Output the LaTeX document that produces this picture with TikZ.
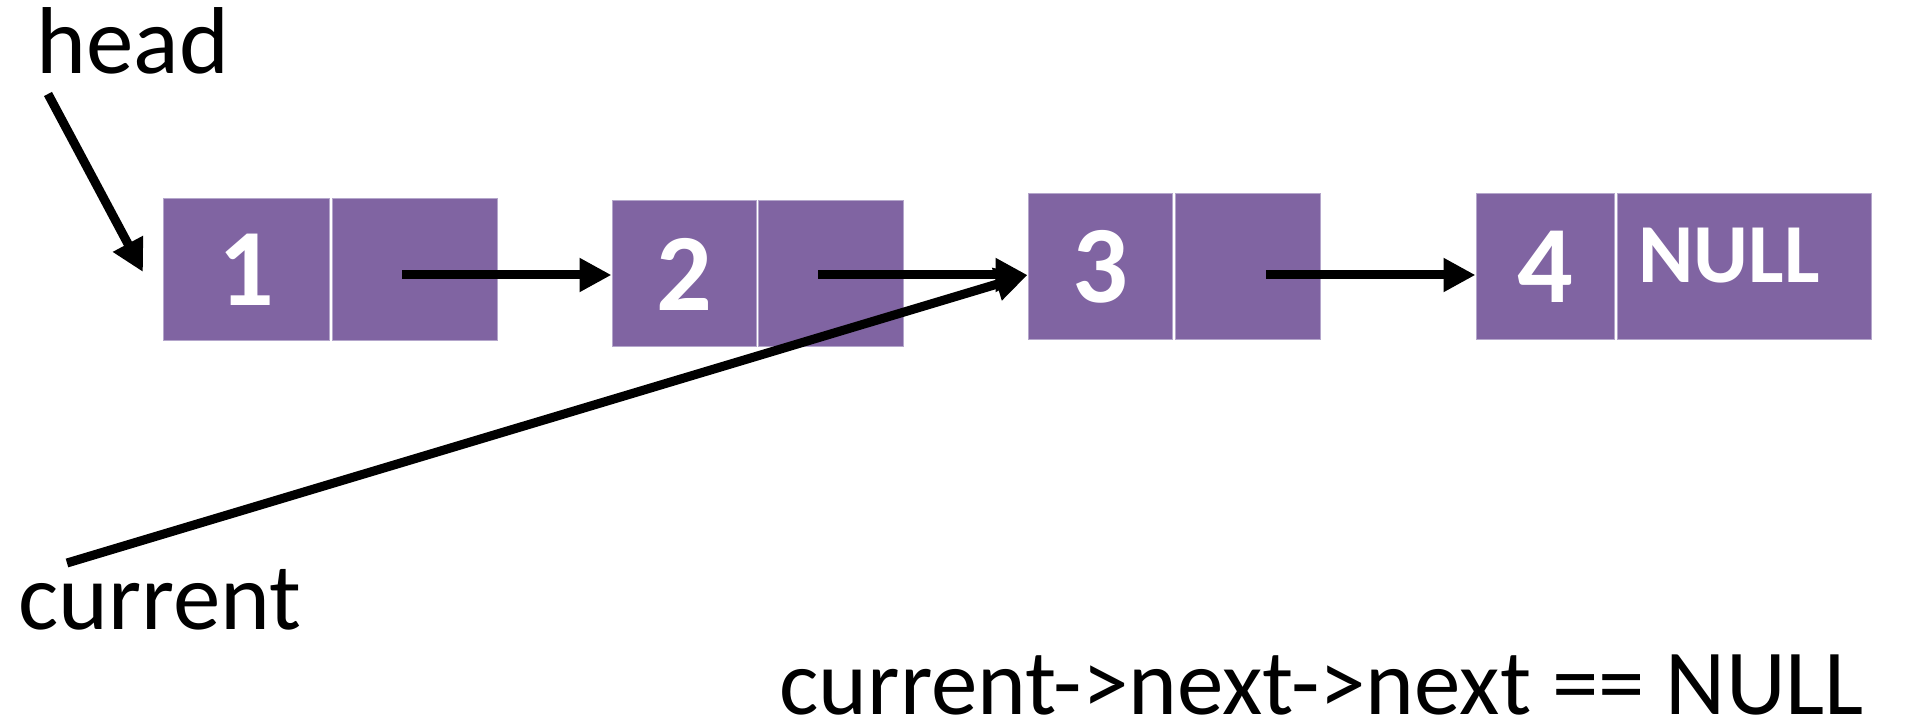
\documentclass[tikz,border=0pt]{standalone}
\usepackage{fontspec}
\setmainfont{Carlito}
\usetikzlibrary{arrows.meta}
\definecolor{cellfill}{HTML}{8064A2}
\definecolor{cellrule}{HTML}{B4A6CB}
\begin{document}
\begin{tikzpicture}[x=0.5pt,y=-0.5pt,
  cell/.style={draw=cellrule,fill=cellfill,line width=0.5pt,inner sep=0pt,minimum height=73pt},
  val/.style={text=white,font=\fontsize{55}{60}\selectfont\bfseries},
  link/.style={line width=4.5pt,-{Triangle[length=16pt,width=16pt]}},
  lbl/.style={inner sep=0pt,anchor=base west,font=\fontsize{47.5}{54}\selectfont}]
  \useasboundingbox (0,0) rectangle (1907,727);
  \node[cell,val,minimum width=83pt,minimum height=71pt] (n1d) at (246,270) {1};
  \node[cell,minimum width=82.5pt,minimum height=71pt] (n1n) at (414.5,270) {};
  \node[cell,val,minimum width=72pt] (n2d) at (684,274) {2};
  \node[cell,minimum width=72.5pt] (n2n) at (831,274) {};
  \node[cell,val,minimum width=72pt] (n3d) at (1100,267) {3};
  \node[cell,minimum width=72.5pt] (n3n) at (1247.5,267) {};
  \node[cell,val,minimum width=69pt] (n4d) at (1545,267) {4};
  \node[cell,minimum width=127pt] (n4n) at (1744,267) {};
  \node[text=white,inner sep=0pt,font=\fontsize{42}{48}\selectfont\bfseries] (nulltxt) at ([xshift=-7.5pt,yshift=5.5pt]n4n.center) {NULL};
  \node[lbl] (head) at (36,74) {head};
  \node[lbl] (current) at (18,629) {current};
  \node[lbl,font=\fontsize{46.5}{54}\selectfont] (cond) at (779,714) {current->next->next == NULL};
  \coordinate (t1) at (402,275);
  \coordinate (t2) at (818,275);
  \coordinate (t3) at (1266,275);
  \coordinate (headtail) at (48,94);
  \coordinate (headtip) at (143,272);
  \coordinate (curtail) at (67,563);
  \draw[link] (t1) -- (t1 -| n2d.west);
  \draw[link] (t2) -- (t2 -| n3d.west);
  \draw[link] (t3) -- (t3 -| n4d.west);
  \draw[link] (headtail) -- (headtip);
  \draw[link] (curtail) -- (t2 -| n3d.west);
\end{tikzpicture}
\end{document}
